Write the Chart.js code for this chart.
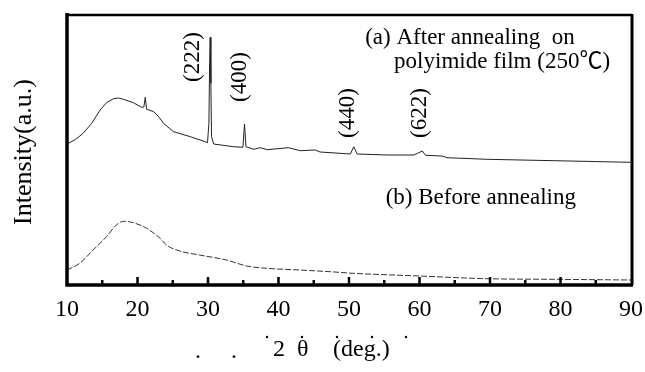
<!DOCTYPE html>
<html>
<head>
<meta charset="utf-8">
<script src="https://cdn.jsdelivr.net/npm/chart.js@4/dist/chart.umd.min.js"></script>
<style>
  body { margin: 0; background: #fff; }
</style>
</head>
<body>
<canvas id="xrd" width="645" height="372"></canvas>
<script>
// 2θ (deg.) and intensity (a.u.)
const twoThetaA = [10.0, 11.2, 12.3, 13.5, 14.7, 15.6, 16.6, 17.3, 18.0, 19.4, 20.6, 20.9, 21.1, 21.3, 22.3, 23.0, 23.7, 25.1, 27.5, 29.6, 29.93, 30.13, 30.22, 30.31, 30.41, 30.5, 30.8, 33.6, 34.95, 35.18, 35.38, 36.5, 37.4, 38.4, 41.4, 43.1, 45.2, 45.9, 50.2, 50.67, 51.15, 55.4, 59.2, 60.4, 60.85, 63.2, 63.9, 69.6, 79.1, 90.0];
const intensityA = [141, 145.5, 151.7, 161.7, 175, 182.3, 186.3, 187, 185.7, 182.3, 177.7, 178, 187.7, 175.7, 173.3, 168.3, 161.7, 153.3, 148.3, 143.3, 142.3, 161.7, 218, 247.7, 201.7, 148.3, 141, 138.3, 137.7, 161, 138.3, 135.7, 137.3, 135.3, 137.3, 134.3, 135, 133, 131, 138.3, 131, 130, 130, 134, 129.7, 129, 127.3, 125.7, 124.3, 122.7];

const twoThetaB = [10.0, 11.8, 13.7, 15.6, 17.0, 18.0, 19.4, 21.3, 23.2, 24.1, 26.0, 28.8, 32.6, 35.5, 38.3, 43.0, 47.3, 50.6, 60.0, 69.5, 79.0, 90.0];
const intensityB = [15, 21.7, 35, 48.3, 60, 63.7, 62.3, 56.7, 46.7, 40, 34, 30, 25, 19, 16.7, 15, 13.3, 11.7, 9, 6.3, 5.7, 5];

const xTicks = [10, 20, 30, 40, 50, 60, 70, 80, 90];
const peakNames = ['(222)', '(400)', '(440)', '(622)'];
const peakAt = [27.9, 34.6, 49.8, 60.1];
const peakLabelLevel = [228, 208, 172, 172];

const serif = "'Liberation Serif', 'Times New Roman', 'Noto Sans CJK JP', serif";

const toPoints = (xs, ys) => xs.map((x, i) => ({ x: x, y: ys[i] }));

const frameAndText = {
    id: 'frameAndText',
    afterDraw(chart) {
        const { ctx, chartArea: a, scales: { x, y } } = chart;
        ctx.save();
        ctx.strokeStyle = '#000';
        ctx.lineCap = 'butt';

        // frame
        ctx.lineWidth = 2.5;
        ctx.beginPath();
        ctx.moveTo(a.left, a.top); ctx.lineTo(a.right + 1, a.top);
        ctx.stroke();
        ctx.lineWidth = 3;
        ctx.beginPath();
        ctx.moveTo(a.right + 1, a.top - 1); ctx.lineTo(a.right + 1, a.bottom);
        ctx.stroke();
        ctx.lineWidth = 3.5;
        ctx.beginPath();
        ctx.moveTo(a.left, a.top - 2); ctx.lineTo(a.left, a.bottom + 1.5);
        ctx.moveTo(a.left - 1.5, a.bottom); ctx.lineTo(a.right + 2, a.bottom);
        ctx.stroke();

        // inward ticks
        ctx.lineWidth = 2.5;
        for (let v = 15; v < 90; v += 5) {
            const px = x.getPixelForValue(v);
            const len = v % 10 === 0 ? 8 : 5;
            ctx.beginPath();
            ctx.moveTo(px, a.bottom);
            ctx.lineTo(px, a.bottom - len);
            ctx.stroke();
        }

        ctx.fillStyle = '#000';
        ctx.font = '23px ' + serif;

        // peak indices, rotated
        ctx.textAlign = 'center';
        ctx.textBaseline = 'middle';
        peakNames.forEach((name, i) => {
            ctx.save();
            ctx.translate(x.getPixelForValue(peakAt[i]), y.getPixelForValue(peakLabelLevel[i]));
            ctx.rotate(-Math.PI / 2);
            ctx.fillText(name, 0, 0);
            ctx.restore();
        });

        // curve labels
        ctx.textAlign = 'left';
        ctx.fillText('(a) After annealing  on', x.getPixelForValue(52.3), y.getPixelForValue(247));
        ctx.fillText('polyimide film (250\u2103)', x.getPixelForValue(56.4), y.getPixelForValue(223));
        ctx.fillText('(b) Before annealing', x.getPixelForValue(55.2), y.getPixelForValue(87));

        // y title
        ctx.save();
        ctx.font = '26px ' + serif;
        ctx.textAlign = 'center';
        ctx.translate(24, 152);
        ctx.rotate(-Math.PI / 2);
        ctx.fillText('Intensity(a.u.)', 0, 0);
        ctx.restore();

        // x title
        ctx.font = '24px ' + serif;
        ctx.textBaseline = 'alphabetic';
        ctx.fillText('2', 273, 356);
        ctx.fillText('\u03b8', 297, 356);
        ctx.fillText('(deg.)', 333, 356);
        ctx.fillText('.', 195, 358);
        ctx.fillText('.', 231, 358);
        [267, 302, 337, 372, 406].forEach(px => {
            ctx.beginPath();
            ctx.arc(px, 337, 1.2, 0, Math.PI * 2);
            ctx.fill();
        });
        ctx.restore();
    }
};

new Chart(document.getElementById('xrd'), {
    type: 'line',
    data: {
        datasets: [
            {
                label: '(a)',
                data: toPoints(twoThetaA, intensityA),
                borderColor: '#222',
                borderWidth: 1,
                pointRadius: 0,
                tension: 0
            },
            {
                label: '(b)',
                data: toPoints(twoThetaB, intensityB),
                borderColor: '#333',
                borderWidth: 1,
                borderDash: [6, 2],
                pointRadius: 0,
                cubicInterpolationMode: 'monotone'
            }
        ]
    },
    options: {
        responsive: false,
        animation: false,
        layout: { padding: { left: 67, right: 14, top: 15, bottom: 0 } },
        plugins: { legend: { display: false }, tooltip: { enabled: false } },
        scales: {
            x: {
                type: 'linear',
                min: 10,
                max: 90,
                afterBuildTicks: scale => { scale.ticks = xTicks.map(v => ({ value: v })); },
                ticks: {
                    color: '#000',
                    font: { family: serif, size: 24 },
                    padding: 2,
                    maxRotation: 0,
                    autoSkip: false
                },
                grid: { display: false },
                border: { display: false },
                afterFit: scale => { scale.height = 87; }
            },
            y: {
                display: false,
                min: 0,
                max: 270
            }
        }
    },
    plugins: [frameAndText]
});
</script>
</body>
</html>
